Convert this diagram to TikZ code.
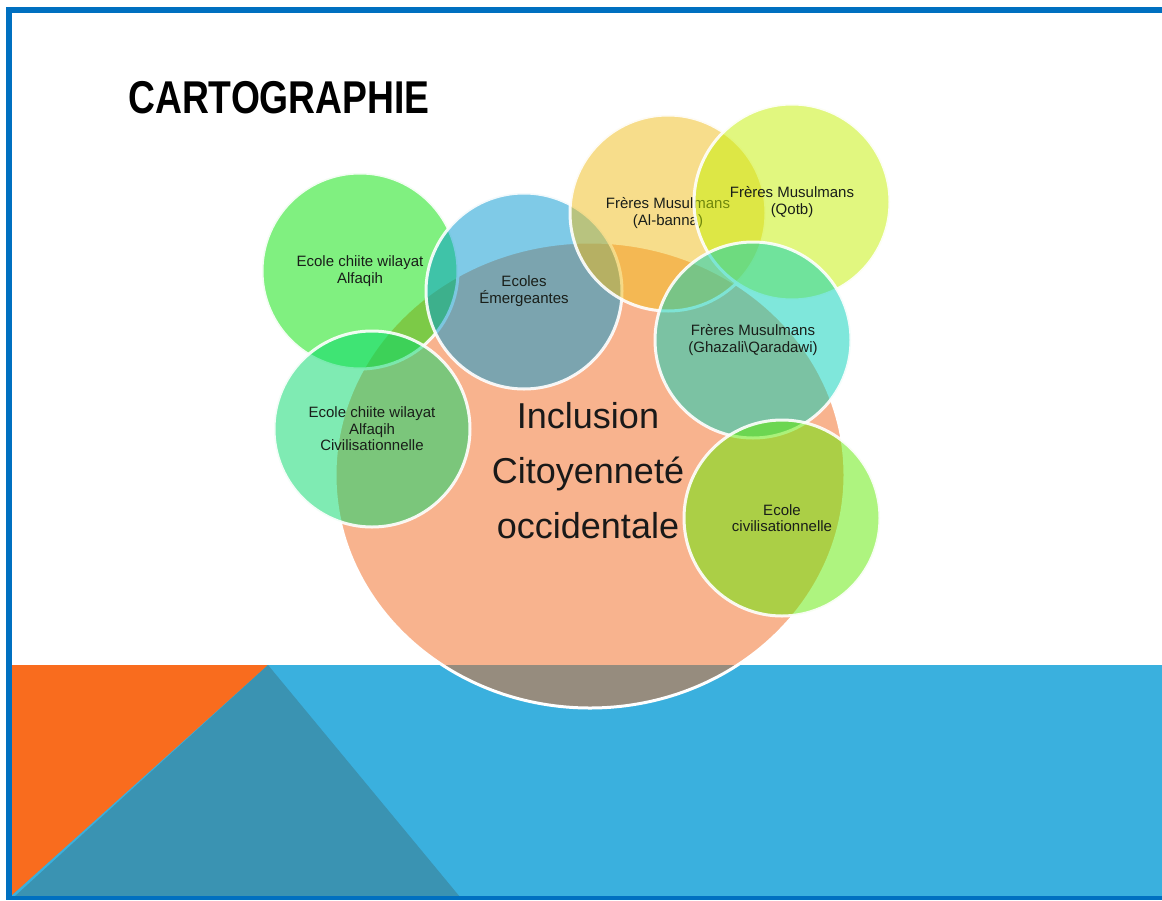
\documentclass[tikz,border=0pt]{standalone}
\usepackage{fontspec}
\setmainfont{Liberation Sans}
\usetikzlibrary{shapes.geometric}

\definecolor{frameblue}{RGB}{0,112,192}
\definecolor{bandblue}{RGB}{58,176,222}
\definecolor{bandorange}{RGB}{249,108,30}
\definecolor{bandteal}{RGB}{58,147,178}
\definecolor{cCentre}{RGB}{243,105,31}
\definecolor{cChiite}{RGB}{2,226,2}
\definecolor{cEmerg}{RGB}{0,151,209}
\definecolor{cBanna}{RGB}{241,189,25}
\definecolor{cQotb}{RGB}{197,241,0}
\definecolor{cGhaz}{RGB}{0,209,185}
\definecolor{cCiv}{RGB}{95,235,0}
\definecolor{cMint}{RGB}{0,217,105}
\definecolor{labelgrey}{RGB}{25,30,25}

\tikzset{
  venn/.style={circle, minimum size=196pt, inner sep=0pt, fill=#1,
    fill opacity=0.5, draw=white, draw opacity=0.9, line width=3pt,
    text opacity=1, text=labelgrey, align=center,
    font=\fontsize{15}{16.5}\selectfont},
  bigtext/.style={align=center, text=black!90,
    font=\fontsize{36}{55}\selectfont},
}

\begin{document}
\begin{tikzpicture}[x=1pt,y=-1pt]
  \useasboundingbox (0,0) rectangle (1162,900);
  \fill[white] (0,0) rectangle (1162,900);

  % bottom band with its two triangles
  \fill[bandblue] (12,665) rectangle (1162,897);
  \fill[bandorange] (12,665) -- (268,665) -- (12,895) -- cycle;
  \fill[bandteal] (268,665) -- (14,897) -- (460,897) -- cycle;

  % title
  \node[anchor=base west, inner sep=0pt, font=\bfseries\fontsize{46}{46}\selectfont]
    (title) at (128,113) {\scalebox{0.81}[1]{CARTOGRAPHIE}};

  % central ellipse
  \node[ellipse, minimum width=510pt, minimum height=466pt, inner sep=0pt,
        fill=cCentre, fill opacity=0.5, draw=white, line width=3pt]
    (centre) at (590,475) {};

  % surrounding circles, in stacking order
  \node[venn=cChiite] (chiite) at (360,271) {Ecole chiite wilayat\\Alfaqih};
  \node[venn=cEmerg]  (emerg)  at (524,291) {Ecoles\\Émergeantes};
  \node[venn=cBanna]  (banna)  at (668,213) {Frères Musulmans\\(Al-banna)};
  \node[venn=cQotb]   (qotb)   at (792,202) {Frères Musulmans\\(Qotb)};
  \node[venn=cGhaz]   (ghaz)   at (753,340) {Frères Musulmans\\(Ghazali\textbackslash Qaradawi)};
  \node[venn=cCiv]    (civ)    at (782,518) {Ecole\\civilisationnelle};
  \node[venn=cMint]   (mint)   at (372,429) {Ecole chiite wilayat\\Alfaqih\\Civilisationnelle};

  % central label
  \node[bigtext] (centrelabel) at (588,471) {Inclusion\\Citoyenneté\\occidentale};

  % slide frame
  \fill[frameblue] (6,7) rectangle (1162,13);
  \fill[frameblue] (6,7) rectangle (12,900);
  \fill[frameblue] (6,896) rectangle (1162,900);
\end{tikzpicture}
\end{document}
